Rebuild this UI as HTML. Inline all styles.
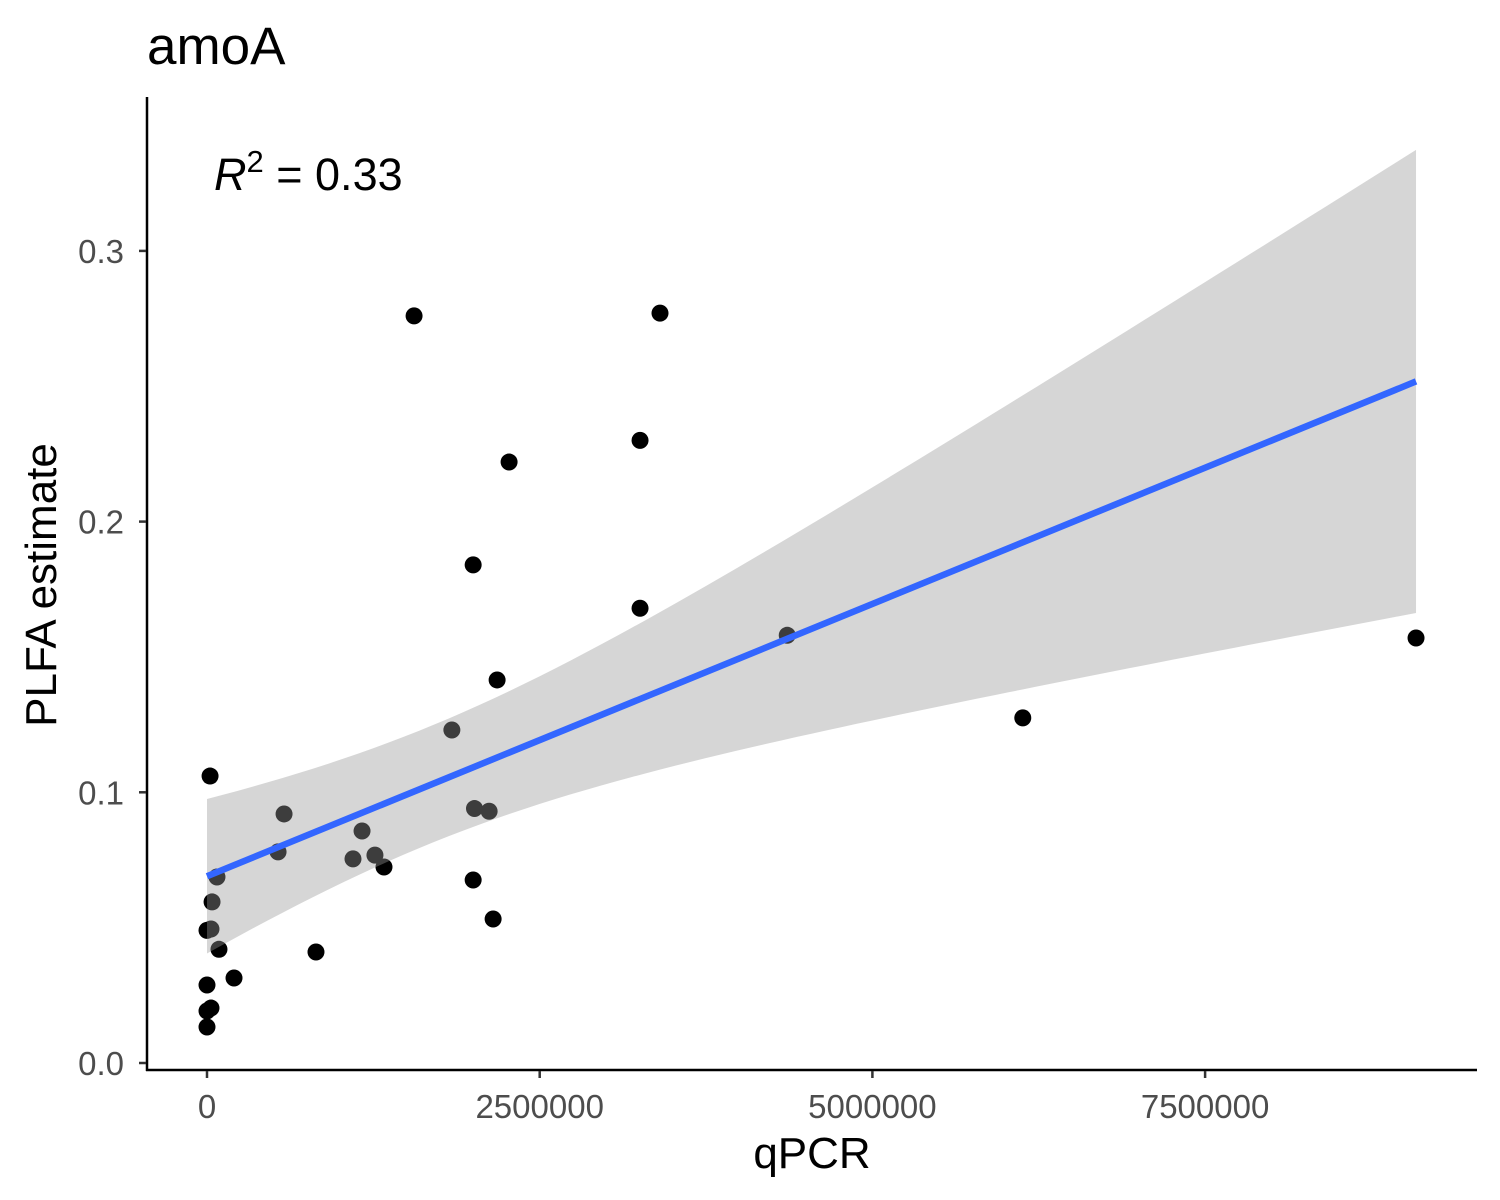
<!DOCTYPE html>
<html><head><meta charset="utf-8"><style>
body{margin:0;background:#fff}
svg{display:block;font-family:"Liberation Sans",Arial,sans-serif}
</style></head><body>
<svg id="chart" width="1500" height="1200" viewBox="0 0 1500 1200">
<rect width="1500" height="1200" fill="#fff"/>
<text x="147" y="64" font-size="53" fill="#000">amoA</text>
<g id="points"></g>
<g id="fit"></g>
<text x="214" y="190" font-size="45" fill="#000"><tspan font-style="italic">R</tspan><tspan dy="-18" font-size="31">2</tspan><tspan dy="18"> = 0.33</tspan></text>
<line x1="147" y1="97" x2="147" y2="1071" stroke="#000" stroke-width="2.5"/>
<line x1="146" y1="1070" x2="1477" y2="1070" stroke="#000" stroke-width="2.5"/>
<g id="xticks"></g>
<g id="yticks"></g>
<text x="812" y="1168" font-size="44" text-anchor="middle" fill="#000">qPCR</text>
<text transform="translate(56,585) rotate(-90)" font-size="44" text-anchor="middle" fill="#000">PLFA estimate</text>
</svg>
<script>
const qpcr=[1556000,3404000,3254000,2270000,2000000,3254000,4360000,9085000,2180000,6130000,1840000,23000,579000,2010000,2120000,1165000,534000,1097000,1262000,1330000,75000,2000000,38000,2150000,0,30000,90000,819000,203000,0,0,30000,0];
const plfa=[0.276,0.277,0.230,0.222,0.184,0.168,0.158,0.157,0.1415,0.1275,0.123,0.106,0.092,0.094,0.093,0.0857,0.078,0.0754,0.0768,0.0724,0.0687,0.0676,0.0595,0.0532,0.049,0.0495,0.042,0.041,0.0314,0.0288,0.0192,0.0203,0.0133];
const xTicks=[0,2500000,5000000,7500000];
const xTickLabels=["0","2500000","5000000","7500000"];
const yTicks=[0,0.1,0.2,0.3];
const yTickLabels=["0.0","0.1","0.2","0.3"];
const NS="http://www.w3.org/2000/svg";
const X=v=>207+v*(332.7/2500000);
const Y=v=>1063-v*2707;
function mk(t,a,p){const e=document.createElementNS(NS,t);for(const k in a)e.setAttribute(k,a[k]);p.appendChild(e);return e;}
const pts=document.getElementById('points');
qpcr.forEach((q,i)=>{const c=mk('circle',{cx:X(q),cy:Y(plfa[i]),r:8.5,fill:'#000'},pts);

});
const n=qpcr.length;const mx=qpcr.reduce((a,b)=>a+b)/n,my=plfa.reduce((a,b)=>a+b)/n;
let sxx=0,sxy=0;for(let i=0;i<n;i++){sxx+=(qpcr[i]-mx)**2;sxy+=(qpcr[i]-mx)*(plfa[i]-my);}
const b=sxy/sxx,a=my-b*mx;let sse=0;for(let i=0;i<n;i++)sse+=(plfa[i]-a-b*qpcr[i])**2;
const s=Math.sqrt(sse/(n-2)),t=2.04;
const x0=Math.min(...qpcr),x1=Math.max(...qpcr);
let up=[],lo=[];for(let k=0;k<=80;k++){const x=x0+(x1-x0)*k/80;const yh=a+b*x;const se=s*Math.sqrt(1/n+(x-mx)**2/sxx);
up.push(X(x)+','+Y(yh+t*se));lo.unshift(X(x)+','+Y(yh-t*se));}
const fit=document.getElementById('fit');
const band=mk('polygon',{points:up.concat(lo).join(' '),fill:'#999',"fill-opacity":0.4},fit);


const ln=mk('line',{x1:X(x0),y1:Y(a+b*x0),x2:X(x1),y2:Y(a+b*x1),stroke:'#3366FF','stroke-width':6.5},fit);


const xt=document.getElementById('xticks');
xTicks.forEach((v,i)=>{const l=mk('line',{x1:X(v),x2:X(v),y1:1071,y2:1078,stroke:'#333','stroke-width':2.5},xt);


const tx=mk('text',{x:X(v),y:1118,'font-size':33,'text-anchor':'middle',fill:'#4d4d4d'},xt);tx.textContent=xTickLabels[i];

});
const yt=document.getElementById('yticks');
yTicks.forEach((v,i)=>{const l=mk('line',{x1:139,x2:146,y1:Y(v),y2:Y(v),stroke:'#333','stroke-width':2.5},yt);


const tx=mk('text',{x:124,y:Y(v)+12,'font-size':33,'text-anchor':'end',fill:'#4d4d4d'},yt);tx.textContent=yTickLabels[i];

});
</script>
</body></html>
